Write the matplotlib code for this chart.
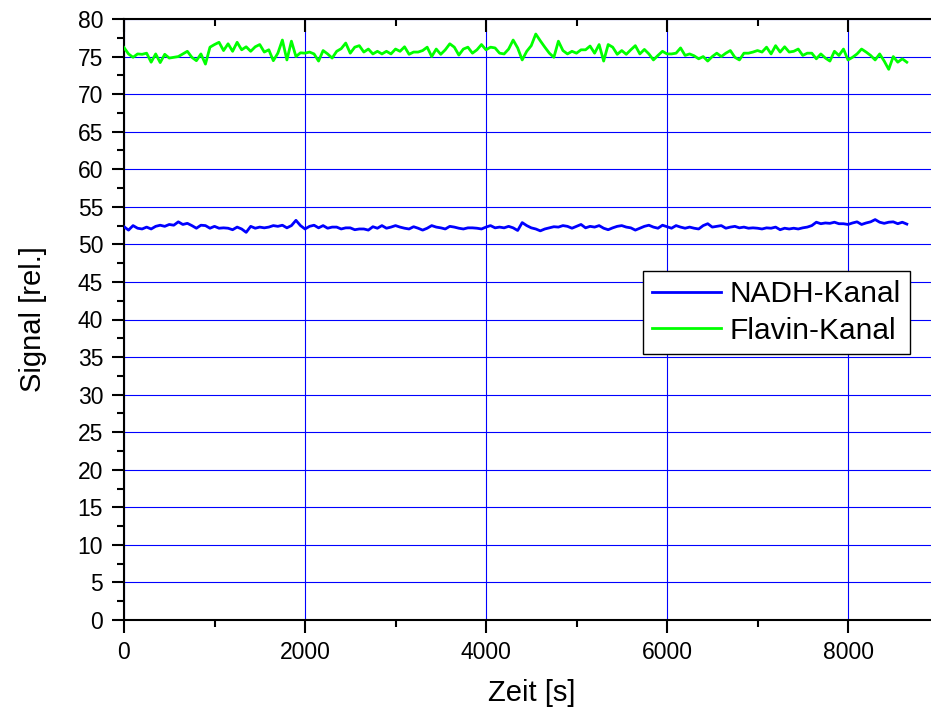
import numpy as np
import matplotlib.pyplot as plt

plt.rcParams['font.family'] = ['Liberation Sans', 'DejaVu Sans']

# Zeitachse: Messpunkte alle 50 s
zeit = np.arange(0, 8700, 50)

nadh = [
    52.35, 51.9, 52.5, 52.15, 52.05, 52.3, 52.05, 52.4, 52.55, 52.4,
    52.65, 52.55, 53.0, 52.65, 52.8, 52.5, 52.15, 52.55, 52.5, 52.15,
    52.4, 52.15, 52.2, 52.15, 51.95, 52.3, 52.05, 51.6, 52.4, 52.15,
    52.3, 52.2, 52.3, 52.5, 52.4, 52.55, 52.2, 52.5, 53.2, 52.5,
    52.05, 52.4, 52.55, 52.2, 52.5, 52.15, 52.3, 52.3, 52.05, 52.2,
    52.2, 51.95, 52.05, 52.05, 51.9, 52.35, 52.15, 52.5, 52.15,
    52.3, 52.5, 52.3, 52.15, 52.05, 52.35, 52.15, 51.9, 52.15, 52.5,
    52.3, 52.2, 52.05, 52.4, 52.3, 52.15, 52.05, 52.2, 52.2, 52.15,
    52.05, 52.3, 52.5, 52.2, 52.3, 52.2, 52.4, 52.2, 51.85, 52.9,
    52.5, 52.2, 52.05, 51.8, 52.05, 52.2, 52.35, 52.3, 52.5, 52.4,
    52.15, 52.4, 52.65, 52.2, 52.4, 52.3, 52.5, 52.15, 51.95, 52.2,
    52.4, 52.5, 52.3, 52.2, 51.9, 52.15, 52.4, 52.55, 52.3, 52.15,
    52.55, 52.35, 52.15, 52.5, 52.3, 52.15, 52.3, 52.15, 52.05, 52.5,
    52.75, 52.3, 52.4, 52.5, 52.15, 52.3, 52.4, 52.2, 52.3, 52.15,
    52.2, 52.15, 52.05, 52.2, 52.15, 52.3, 51.95, 52.15, 52.05, 52.15,
    52.05, 52.2, 52.3, 52.5, 52.95, 52.75, 52.85, 52.8, 52.95, 52.75,
    52.75, 52.65, 52.85, 53.0, 52.65, 52.85, 53.0, 53.3, 52.95, 52.8,
    52.95, 53.0, 52.75, 52.95, 52.7,
]

flavin = [
    76.2, 75.35, 74.9, 75.35, 75.3, 75.45, 74.25, 75.35, 74.2, 75.3,
    74.8, 74.9, 75.0, 75.35, 75.7, 74.9, 74.45, 75.35, 74.0, 76.25,
    76.6, 76.9, 75.8, 76.7, 75.7, 76.9, 75.9, 76.3, 75.7, 76.3,
    76.6, 75.6, 75.9, 74.45, 75.45, 77.2, 74.55, 77.05, 75.0, 75.5,
    75.45, 75.6, 75.35, 74.4, 75.8, 75.35, 74.8, 75.7, 76.05, 76.8,
    75.45, 76.25, 76.45, 75.6, 76.0, 75.35, 75.7, 75.35, 75.7,
    75.35, 76.0, 75.7, 76.3, 75.3, 75.6, 75.6, 75.8, 76.25, 75.0,
    76.0, 75.3, 75.9, 76.7, 76.25, 75.2, 76.0, 76.25, 75.45, 75.9,
    76.6, 75.9, 76.25, 76.15, 75.45, 75.35, 76.0, 77.2, 76.15, 74.55,
    75.7, 76.45, 78.0, 77.1, 76.25, 75.45, 74.9, 77.05, 75.8, 75.35,
    75.7, 75.45, 75.9, 75.9, 76.4, 75.45, 76.6, 74.4, 76.6, 76.25,
    75.3, 75.8, 75.3, 75.9, 76.45, 75.35, 75.95, 75.35, 74.55, 75.15,
    75.7, 75.35, 75.35, 75.45, 76.15, 75.15, 75.35, 75.1, 74.7, 75.0,
    74.4, 75.0, 75.45, 75.0, 75.45, 75.8, 74.9, 74.55, 75.45, 75.45,
    75.6, 75.8, 75.6, 76.25, 75.35, 76.45, 75.6, 76.3, 75.6, 75.7,
    76.0, 75.15, 75.45, 75.45, 74.7, 75.35, 74.8, 74.4, 75.7, 75.15,
    76.0, 74.55, 74.9, 75.35, 76.0, 75.6, 75.15, 74.55, 75.35, 74.4,
    73.3, 75.0, 74.25, 74.7, 74.25,
]

fig = plt.figure(figsize=(9.31, 7.13), dpi=100)
ax = fig.add_axes([124 / 931, 93 / 713, 814.5 / 931, 601 / 713])

ax.plot(zeit, nadh, color='#0000ff', lw=2.0, label='NADH-Kanal', zorder=3)
ax.plot(zeit, flavin, color='#00ff00', lw=2.0, label='Flavin-Kanal', zorder=3)

ax.set_xlim(0, 9000)
ax.set_ylim(0, 80)
ax.set_xticks(np.arange(0, 9001, 2000))
ax.set_xticks(np.arange(1000, 9001, 2000), minor=True)
ax.set_yticks(np.arange(0, 81, 5))
ax.set_yticks(np.arange(2.5, 80, 5), minor=True)

ax.grid(True, which='major', color='#0000ff', lw=0.8)
ax.set_axisbelow(True)

for side in ['left', 'bottom', 'top']:
    ax.spines[side].set_linewidth(1.5)
ax.spines['right'].set_visible(False)

ax.tick_params(which='both', width=1.5, labelsize=16.5, direction='out', pad=6)
ax.tick_params(which='major', length=9)
ax.tick_params(which='minor', length=5)
ax.tick_params(axis='x', which='both', top=True)
# Ticks oben nach innen
for t in ax.xaxis.get_major_ticks() + ax.xaxis.get_minor_ticks():
    t.tick2line.set_marker(3)

ax.set_xlabel('Zeit [s]', fontsize=21, labelpad=11)
ax.set_ylabel('Signal [rel.]', fontsize=21, labelpad=22)

leg = ax.legend(loc='upper left', bbox_to_anchor=(643 / 931, 1 - 271 / 713),
                bbox_transform=fig.transFigure, borderaxespad=0,
                fontsize=21.5, fancybox=False, framealpha=1, edgecolor='black',
                handlelength=2.3, handletextpad=0.3, borderpad=0.3,
                labelspacing=0.3)
leg.get_frame().set_linewidth(1.0)

fig.savefig('out.png', dpi=100)
